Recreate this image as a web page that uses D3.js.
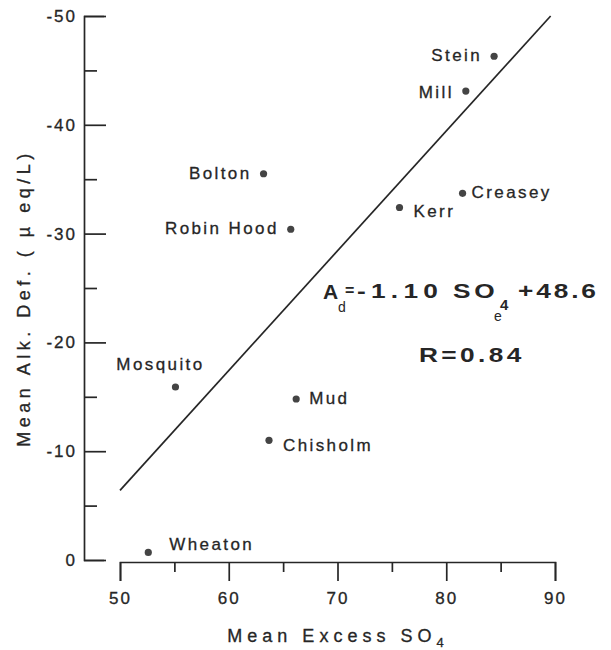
<!DOCTYPE html>
<html>
<head>
<meta charset="utf-8">
<script src="https://cdn.jsdelivr.net/npm/d3@7"></script>
<style>
	body { margin: 0; background: #fff; }
	text { font-family: "Liberation Sans", Arial, sans-serif; fill: #262626; }
</style>
</head>
<body>
<div id="chart"></div>
<script>
// Lakes: mean excess sulfate vs mean alkalinity deficit
const lakes = ["Stein", "Mill", "Creasey", "Kerr", "Bolton", "Robin Hood", "Mosquito", "Mud", "Chisholm", "Wheaton"];
const excessSO4 = [84.4, 81.8, 81.5, 75.7, 63.2, 65.7, 55.1, 66.2, 63.7, 52.6];
const alkDeficit = [-46.3, -43.1, -33.7, -32.4, -35.5, -30.4, -15.9, -14.8, -11.0, -0.7];

// regression line end points as drawn
const fitSO4 = [50, 89.6];
const fitAlk = [-6.4, -50];

const xTicks = [50, 60, 70, 80, 90];
const xMinor = [55, 65, 75, 85];
const yTicks = [0, -10, -20, -30, -40, -50];
const yMinor = [-5, -15, -25, -35, -45];

// where each name sits next to its dot: [anchor, dx, dy]
const labelPlace = [
	["end", -12, 5],
	["end", -12, 7],
	["start", 9, 5],
	["start", 14, 10],
	["end", -12, 5],
	["end", -12, 5],
	["middle", -15, -17],
	["start", 13, 5],
	["start", 14, 11],
	["start", 21, -2],
];

const width = 611;
const height = 650;
const ink = "#262626";

const svg = d3
	.select("#chart")
	.append("svg")
	.attr("width", width)
	.attr("height", height);

const x = d3.scaleLinear().domain([50, 90]).range([120, 555]);
const y = d3.scaleLinear().domain([0, -50]).range([560, 16]);

// Y axis (ticks point inward, labels on the left)
const yAxis = svg.append("g").attr("transform", "translate(84,0)");
yAxis.call(
	d3.axisLeft(y)
		.tickValues(yTicks)
		.tickSizeInner(-22)
		.tickSizeOuter(-20)
		.tickPadding(7)
		.tickFormat((d) => (d === 0 ? "0" : "-" + Math.abs(d)))
);
svg.append("g")
	.attr("transform", "translate(84,0)")
	.call(d3.axisLeft(y).tickValues(yMinor).tickSizeInner(-13).tickSizeOuter(0).tickFormat(""))
	.call((g) => g.select(".domain").remove());

// X axis (ticks point down)
const xAxis = svg.append("g").attr("transform", "translate(0,562)");
xAxis.call(
	d3.axisBottom(x)
		.tickValues(xTicks)
		.tickSizeInner(19)
		.tickSizeOuter(19)
		.tickPadding(11)
		.tickFormat(d3.format("d"))
);
svg.append("g")
	.attr("transform", "translate(0,562)")
	.call(d3.axisBottom(x).tickValues(xMinor).tickSizeInner(10).tickSizeOuter(0).tickFormat(""))
	.call((g) => g.select(".domain").remove());

svg.selectAll(".domain, .tick line")
	.attr("stroke", ink)
	.attr("stroke-width", 1.7);
svg.selectAll(".tick text")
	.attr("font-size", 17)
	.attr("letter-spacing", 2)
	.attr("fill", ink)
	.attr("stroke", ink)
	.attr("stroke-width", 0.3)
	.style("font-family", '"Liberation Sans", Arial, sans-serif');

// Axis titles
const xTitle = svg.append("text")
	.attr("x", 338)
	.attr("y", 642)
	.attr("text-anchor", "middle")
	.attr("font-size", 18)
	.attr("letter-spacing", 5)
	.attr("stroke", ink)
	.attr("stroke-width", 0.3);
xTitle.append("tspan").text("Mean Excess SO");
xTitle.append("tspan").attr("font-size", 13).attr("dy", 5).text("4");

svg.append("text")
	.attr("transform", "translate(30,298) rotate(-90)")
	.attr("text-anchor", "middle")
	.attr("font-size", 18)
	.attr("letter-spacing", 4.5)
	.attr("stroke", ink)
	.attr("stroke-width", 0.3)
	.text("Mean Alk. Def. ( \u00b5 eq/L)");

// Regression line
svg.append("line")
	.attr("x1", x(fitSO4[0]))
	.attr("y1", y(fitAlk[0]))
	.attr("x2", x(fitSO4[1]))
	.attr("y2", y(fitAlk[1]))
	.attr("stroke", ink)
	.attr("stroke-width", 1.7);

// Points
const pts = lakes.map((name, i) => ({ name, so4: excessSO4[i], alk: alkDeficit[i], place: labelPlace[i] }));

svg.selectAll("circle")
	.data(pts)
	.enter()
	.append("circle")
	.attr("cx", (d) => x(d.so4))
	.attr("cy", (d) => y(d.alk))
	.attr("r", 3.6)
	.attr("fill", "#444");

svg.selectAll(".lake")
	.data(pts)
	.enter()
	.append("text")
	.attr("class", "lake")
	.attr("x", (d) => x(d.so4) + d.place[1])
	.attr("y", (d) => y(d.alk) + d.place[2])
	.attr("text-anchor", (d) => d.place[0])
	.attr("font-size", 17)
	.attr("letter-spacing", 2.4)
	.attr("stroke", ink)
	.attr("stroke-width", 0.3)
	.text((d) => d.name);

// Equation and correlation (wide bold lettering, stretched sideways)
const eqParts = [
	// text, x, y, size, bold, spacing, stretch
	["A", 323, 299, 21, true, 0, 1],
	["d", 338, 312, 14, false, 0, 1],
	["=", 345, 296, 16, true, 0, 1],
	["-1.10", 357, 298, 21, true, 4.2, 1.25],
	["SO", 453, 298, 21, true, 3, 1.25],
	["4", 500, 310, 15, true, 0, 1],
	["e", 494, 321, 14, false, 0, 1],
	["+48.6", 518, 298, 21, true, 2.3, 1.25],
	["R=0.84", 419, 362, 21, true, 2.7, 1.25],
];

svg.append("g")
	.selectAll("text")
	.data(eqParts)
	.enter()
	.append("text")
	.attr("transform", (d) => `translate(${d[1]},${d[2]}) scale(${d[6]},1)`)
	.attr("font-size", (d) => d[3])
	.attr("font-weight", (d) => (d[4] ? "bold" : "normal"))
	.attr("letter-spacing", (d) => d[5])
	.text((d) => d[0]);
</script>
</body>
</html>
